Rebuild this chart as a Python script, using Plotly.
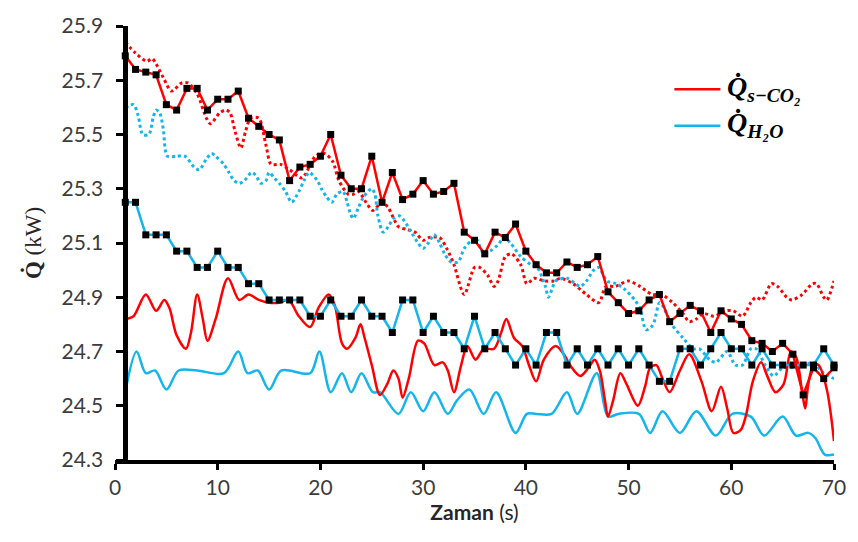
import plotly.graph_objects as go

# ---------------------------------------------------------------------------
# Data
# ---------------------------------------------------------------------------
time_s = list(range(1, 71))

# s-CO2 heat rate, sampled every second (red line with black markers)
q_sco2_sampled = [
    25.79, 25.74, 25.73, 25.72, 25.61, 25.59, 25.67, 25.67, 25.59, 25.63,
    25.63, 25.66, 25.56, 25.53, 25.50, 25.48, 25.33, 25.38, 25.39, 25.42,
    25.50, 25.35, 25.30, 25.30, 25.42, 25.25, 25.36, 25.26, 25.28, 25.33,
    25.28, 25.29, 25.32, 25.14, 25.11, 25.06, 25.14, 25.12, 25.17, 25.07,
    25.02, 24.99, 24.99, 25.03, 25.01, 25.02, 25.05, 24.92, 24.88, 24.84,
    24.85, 24.89, 24.91, 24.81, 24.84, 24.87, 24.85, 24.77, 24.85, 24.82,
    24.80, 24.74, 24.73, 24.70, 24.73, 24.69, 24.54, 24.64, 24.60, 24.64,
]

# H2O heat rate, sampled every second (blue line with black markers)
q_h2o_sampled = [
    25.25, 25.25, 25.13, 25.13, 25.13, 25.07, 25.07, 25.01, 25.01, 25.07,
    25.01, 25.01, 24.95, 24.95, 24.89, 24.89, 24.89, 24.89, 24.83, 24.83,
    24.89, 24.83, 24.83, 24.89, 24.83, 24.83, 24.77, 24.89, 24.89, 24.77,
    24.83, 24.77, 24.77, 24.71, 24.83, 24.71, 24.77, 24.71, 24.65, 24.71,
    24.65, 24.77, 24.77, 24.65, 24.71, 24.65, 24.71, 24.65, 24.71, 24.65,
    24.71, 24.65, 24.59, 24.59, 24.71, 24.71, 24.65, 24.71, 24.77, 24.71,
    24.71, 24.65, 24.71, 24.65, 24.65, 24.65, 24.65, 24.65, 24.71, 24.65,
]

# s-CO2 heat rate, dotted curve
q_sco2_dotted_t = [
    1.0, 2.0, 3.1, 3.6, 4.0, 4.7, 5.5, 6.5, 7.1, 8.0, 8.9, 9.3, 10.2, 10.8,
    11.2, 11.7, 12.25, 12.7, 13.2, 14.0, 14.7, 15.2, 16.1, 17.0, 18.2, 19.5,
    20.4, 21.2, 21.8, 22.7, 23.2, 23.7, 24.6, 25.1, 26.0, 26.6, 27.6, 28.4,
    29.2, 30.0, 30.6, 31.6, 32.3, 33.0, 34.0, 35.0, 35.5, 36.3, 36.9, 37.3,
    38.0, 38.6, 39.5, 40.1, 40.8, 41.8, 42.7, 43.4, 44.6, 45.9, 47.1, 47.8,
    48.7, 50.0, 51.1, 52.3, 53.2, 54.3, 55.3, 55.9, 56.6, 57.3, 58.3, 59.5,
    60.2, 61.1, 61.9, 62.4, 63.0, 63.9, 64.5, 65.4, 65.9, 66.9, 67.9, 68.3,
    69.0, 69.3, 70.0,
]
q_sco2_dotted = [
    25.84, 25.80, 25.77, 25.78, 25.76, 25.71, 25.66, 25.69, 25.69, 25.65,
    25.56, 25.54, 25.58, 25.59, 25.58, 25.51, 25.45, 25.51, 25.56, 25.56,
    25.46, 25.39, 25.39, 25.37, 25.34, 25.42, 25.43, 25.40, 25.33, 25.28,
    25.28, 25.29, 25.24, 25.22, 25.25, 25.23, 25.16, 25.15, 25.14, 25.11,
    25.12, 25.12, 25.08, 25.02, 24.91, 25.01, 25.01, 24.98, 24.94, 24.96,
    25.05, 25.06, 25.02, 24.95, 24.97, 24.96, 24.96, 24.97, 24.95, 24.91,
    24.88, 24.94, 24.94, 24.96, 24.94, 24.91, 24.91, 24.88, 24.84, 24.81,
    24.82, 24.84, 24.83, 24.85, 24.85, 24.83, 24.88, 24.90, 24.89, 24.95,
    24.94, 24.90, 24.89, 24.91, 24.95, 24.95, 24.90, 24.89, 24.96,
]

# H2O heat rate, dotted curve
q_h2o_dotted_t = [
    1.0, 1.8, 2.25, 2.7, 3.3, 3.7, 4.0, 4.35, 4.7, 5.1, 6.0, 6.8, 7.7, 8.2,
    8.9, 9.4, 9.8, 10.6, 11.1, 11.6, 12.1, 12.6, 13.3, 13.7, 14.2, 14.7,
    15.0, 15.5, 16.0, 16.6, 17.2, 17.9, 18.4, 18.9, 19.7, 20.1, 20.6, 21.1,
    21.6, 22.2, 22.6, 22.9, 23.2, 23.7, 24.2, 25.0, 25.3, 25.6, 26.1, 26.6,
    27.1, 27.7, 28.2, 28.85, 29.5, 30.0, 30.5, 31.1, 31.6, 32.1, 32.7, 33.4,
    34.0, 34.7, 35.1, 35.9, 36.5, 37.2, 37.9, 38.5, 39.5, 40.5, 41.1, 41.9,
    42.2, 42.55, 42.9, 44.0, 45.3, 45.9, 46.6, 47.1, 47.9, 48.8, 49.6, 50.6,
    51.1, 51.7, 52.2, 52.5, 53.0, 53.3, 54.2, 55.3, 56.3, 56.9, 57.9, 58.5,
    59.6, 60.4, 61.1, 61.9, 62.4, 63.3, 64.1, 65.0, 65.9, 67.2, 67.9, 69.0,
    70.0,
]
q_h2o_dotted = [
    25.60, 25.61, 25.57, 25.50, 25.50, 25.56, 25.59, 25.58, 25.52, 25.42,
    25.42, 25.42, 25.38, 25.37, 25.41, 25.43, 25.42, 25.39, 25.36, 25.33,
    25.32, 25.33, 25.36, 25.35, 25.32, 25.33, 25.36, 25.34, 25.32, 25.29,
    25.25, 25.29, 25.33, 25.36, 25.33, 25.30, 25.27, 25.25, 25.28, 25.29,
    25.25, 25.21, 25.19, 25.23, 25.27, 25.30, 25.28, 25.20, 25.14, 25.16,
    25.19, 25.20, 25.18, 25.14, 25.10, 25.08, 25.10, 25.13, 25.10, 25.06,
    25.03, 25.03, 25.08, 25.11, 25.12, 25.06, 25.07, 25.09, 25.12, 25.10,
    25.05, 25.02, 25.01, 24.94, 24.90, 24.93, 24.96, 24.97, 24.94, 24.96,
    25.00, 25.01, 24.96, 24.95, 24.93, 24.89, 24.86, 24.78, 24.79, 24.81,
    24.88, 24.87, 24.80, 24.75, 24.71, 24.71, 24.67, 24.66, 24.70, 24.65,
    24.65, 24.71, 24.71, 24.65, 24.61, 24.64, 24.64, 24.65, 24.66, 24.62,
    24.60,
]

# s-CO2 heat rate, smooth solid curve
q_sco2_smooth_t = [
    1.0, 1.8, 3.0, 4.0, 4.8, 5.3, 6.0, 6.9, 7.4, 8.0, 8.55, 9.0, 9.8, 11.0,
    12.1, 13.0, 14.0, 15.0, 16.0, 16.9, 17.9, 19.0, 19.8, 20.8, 21.4, 22.1,
    22.6, 23.4, 23.9, 24.3, 25.0, 25.8, 26.5, 27.1, 27.6, 28.0, 28.6, 29.5,
    30.1, 31.1, 31.9, 32.4, 33.0, 33.7, 34.3, 35.1, 35.9, 36.9, 37.6, 38.1,
    38.85, 39.65, 40.3, 41.0, 41.75, 42.9, 43.7, 44.3, 45.3, 46.1, 46.7, 47.2,
    47.7, 48.0, 48.5, 49.2, 49.8, 50.9, 51.6, 52.1, 52.7, 53.3, 54.0, 55.0,
    55.9, 57.1, 58.1, 59.0, 59.6, 60.2, 60.9, 61.4, 62.1, 62.9, 63.5, 64.3,
    65.1, 65.8, 66.3, 66.9, 67.2, 67.5, 68.0, 68.5, 69.3, 70.0,
]
q_sco2_smooth = [
    24.82, 24.83, 24.91, 24.85, 24.89, 24.86, 24.76, 24.71, 24.77, 24.91,
    24.82, 24.74, 24.82, 24.97, 24.89, 24.91, 24.89, 24.88, 24.88, 24.89,
    24.83, 24.79, 24.86, 24.91, 24.87, 24.73, 24.71, 24.75, 24.80, 24.75,
    24.65, 24.54, 24.58, 24.63, 24.60, 24.53, 24.60, 24.74, 24.73, 24.65,
    24.66, 24.63, 24.55, 24.65, 24.72, 24.67, 24.71, 24.71, 24.77, 24.82,
    24.75, 24.72, 24.65, 24.59, 24.67, 24.72, 24.69, 24.65, 24.61, 24.64,
    24.67, 24.63, 24.52, 24.46, 24.52, 24.62, 24.58, 24.50, 24.57, 24.64,
    24.65, 24.60, 24.55, 24.63, 24.69, 24.59, 24.48, 24.57, 24.49, 24.40,
    24.41, 24.46, 24.59, 24.66, 24.61, 24.55, 24.58, 24.70, 24.68, 24.55,
    24.49, 24.58, 24.65, 24.65, 24.56, 24.37,
]

# H2O heat rate, smooth solid curve
q_h2o_smooth_t = [
    1.0, 2.1, 3.0, 3.9, 5.0, 6.2, 8.0, 10.6, 12.0, 12.9, 13.9, 15.0, 16.2,
    19.0, 19.9, 21.0, 22.1, 23.0, 24.0, 25.1, 25.8, 27.6, 28.8, 30.0, 31.1,
    32.4, 33.3, 34.5, 35.9, 37.1, 39.0, 40.1, 41.0, 42.5, 44.0, 45.0, 46.9,
    48.0, 49.0, 51.0, 52.1, 53.3, 55.0, 56.6, 58.5, 60.1, 61.9, 63.2, 65.0,
    66.3, 67.5, 68.2, 69.1, 70.0,
]
q_h2o_smooth = [
    24.55, 24.70, 24.62, 24.63, 24.56, 24.63, 24.63, 24.62, 24.70, 24.62,
    24.63, 24.56, 24.63, 24.62, 24.70, 24.55, 24.62, 24.55, 24.62, 24.55,
    24.55, 24.47, 24.55, 24.48, 24.55, 24.47, 24.52, 24.56, 24.47, 24.55,
    24.40, 24.47, 24.47, 24.47, 24.55, 24.47, 24.62, 24.46, 24.47, 24.47,
    24.40, 24.48, 24.40, 24.48, 24.39, 24.47, 24.46, 24.39, 24.46, 24.39,
    24.40, 24.38, 24.32, 24.32,
]

x_ticks = [0, 10, 20, 30, 40, 50, 60, 70]
y_ticks = [24.3, 24.5, 24.7, 24.9, 25.1, 25.3, 25.5, 25.7, 25.9]
y_tick_text = ["24.3", "24.5", "24.7", "24.9", "25.1", "25.3", "25.5", "25.7", "25.9"]

legend_labels = [
    "<b><i>Q̇</i></b><sub><b><i>s−CO₂</i></b></sub>",
    "<b><i>Q̇</i></b><sub><b><i>H₂O</i></b></sub>",
]

# ---------------------------------------------------------------------------
# Styling
# ---------------------------------------------------------------------------
RED = "#FF0000"
BLUE = "#14B4EC"
TICK_FONT = dict(family="Lato, Arial, sans-serif", size=21, color="#3c3c3c")

fig = go.Figure()

# dotted curves
fig.add_trace(go.Scatter(
    x=q_sco2_dotted_t, y=q_sco2_dotted, mode="lines",
    line=dict(color=RED, width=3, dash="3px,3px", shape="spline", smoothing=0.8),
    showlegend=False, hoverinfo="skip"))
fig.add_trace(go.Scatter(
    x=q_h2o_dotted_t, y=q_h2o_dotted, mode="lines",
    line=dict(color=BLUE, width=3, dash="3px,3px", shape="spline", smoothing=0.8),
    showlegend=False, hoverinfo="skip"))

# smooth solid curves
fig.add_trace(go.Scatter(
    x=q_h2o_smooth_t, y=q_h2o_smooth, mode="lines",
    line=dict(color=BLUE, width=2.5, shape="spline", smoothing=0.9),
    showlegend=False, hoverinfo="skip"))
fig.add_trace(go.Scatter(
    x=q_sco2_smooth_t, y=q_sco2_smooth, mode="lines",
    line=dict(color=RED, width=2.5, shape="spline", smoothing=0.9),
    showlegend=False, hoverinfo="skip"))

# sampled series with square markers
fig.add_trace(go.Scatter(
    x=time_s, y=q_h2o_sampled, mode="lines+markers",
    line=dict(color=BLUE, width=2.5),
    marker=dict(symbol="square", size=7, color="black"),
    cliponaxis=False, showlegend=False, hoverinfo="skip"))
fig.add_trace(go.Scatter(
    x=time_s, y=q_sco2_sampled, mode="lines+markers",
    line=dict(color=RED, width=2.5),
    marker=dict(symbol="square", size=7, color="black"),
    cliponaxis=False, showlegend=False, hoverinfo="skip"))

# hand-placed legend (paper coordinates)
legend_colors = [RED, BLUE]
legend_rows_y = [0.854, 0.770]
for label, color, ly in zip(legend_labels, legend_colors, legend_rows_y):
    fig.add_shape(type="line", xref="paper", yref="paper",
                  x0=0.778, x1=0.842, y0=ly, y1=ly,
                  line=dict(color=color, width=2.5))
    fig.add_annotation(xref="paper", yref="paper", x=0.849, y=ly + 0.002,
                       xanchor="left", yanchor="middle", showarrow=False,
                       text=label,
                       font=dict(family="Liberation Serif, DejaVu Serif, serif",
                                 size=28, color="black"))

fig.update_layout(
    width=858, height=542,
    margin=dict(l=115, r=19, t=15, b=82),
    paper_bgcolor="white", plot_bgcolor="white",
    showlegend=False,
    xaxis=dict(
        range=[0, 70], tickvals=x_ticks,
        showline=True, linecolor="black", linewidth=4, mirror=False,
        ticks="outside", ticklen=6, tickwidth=3, tickcolor="black",
        showgrid=False, zeroline=False, tickfont=TICK_FONT,
        title=dict(text="<b>Zaman</b> (s)", standoff=6,
                   font=dict(family="Lato, Arial, sans-serif", size=21, color="#262626")),
    ),
    yaxis=dict(
        range=[24.3, 25.9], tickvals=y_ticks, ticktext=y_tick_text,
        anchor="free", position=1 / 70,
        showline=True, linecolor="black", linewidth=5,
        ticks="outside", ticklen=7, tickwidth=3, tickcolor="black",
        ticklabelstandoff=9,
        showgrid=False, zeroline=False, tickfont=TICK_FONT,
        title=dict(text="<b>Q̇</b> (kW)", standoff=12,
                   font=dict(family="Liberation Serif, DejaVu Serif, serif", size=23, color="#262626")),
    ),
)

fig.write_html("out.html")
